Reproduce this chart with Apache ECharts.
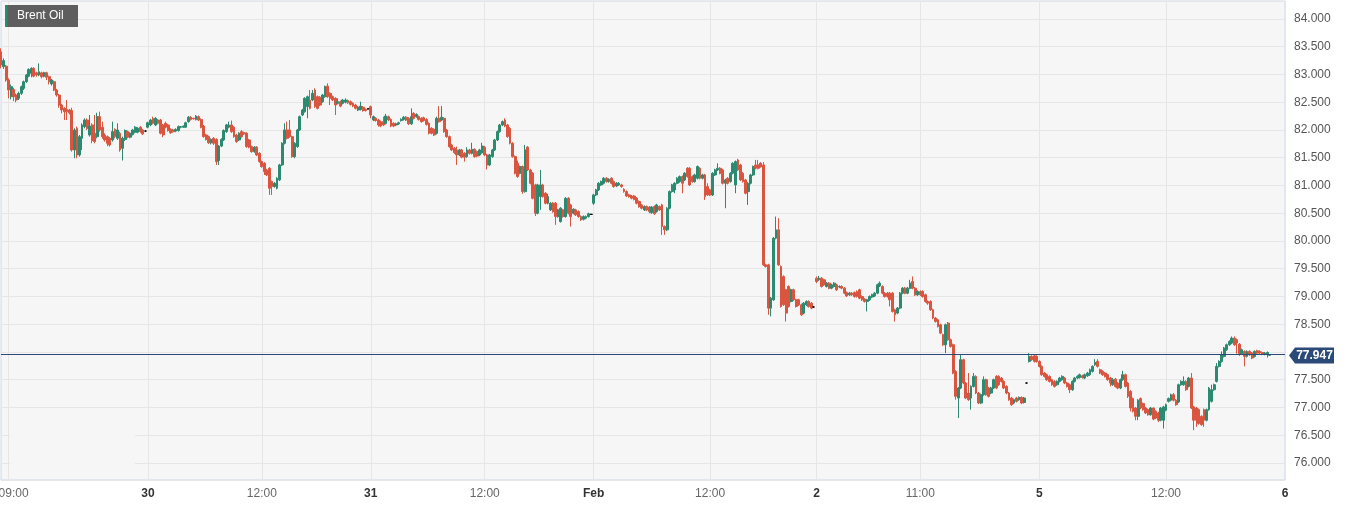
<!DOCTYPE html>
<html><head><meta charset="utf-8">
<script src="https://cdn.jsdelivr.net/npm/echarts@6/dist/echarts.min.js"></script>
<style>html,body{margin:0;padding:0;background:#fff}#c{width:1351px;height:506px}</style>
</head><body><div id="c"></div>
<script>
const chartTitle = 'Brent Oil';
const lastPrice = 77.947;
const yMin = 75.693, yMax = 84.324;
const categoryCount = 508;
const tickIdx = [3, 58, 103, 146, 191, 234, 280, 322, 363, 410, 460, 507];
const tickText = ['09:00', '30', '12:00', '31', '12:00', 'Feb', '12:00', '2', '11:00', '5', '12:00', '6'];
const tickBold = [false, true, false, true, false, true, false, true, false, true, false, true];
const hiddenYLabels = [78];

// [open, close, low, high]
const jan29 = [
[83.41,83.17,83.11,83.47],[83.14,83.25,83.10,83.29],[83.15,82.90,82.87,83.17],[82.90,82.72,82.57,82.93],[82.60,82.78,82.55,82.82],
[82.73,82.60,82.52,82.76],[82.63,82.54,82.50,82.66],[82.57,82.66,82.54,82.69],[82.66,82.78,82.63,82.80],[82.75,82.87,82.72,82.89],
[82.87,82.99,82.85,83.01],[82.97,83.09,82.95,83.11],[83.02,83.11,82.95,83.13],[83.11,82.97,82.95,83.13],[83.03,82.99,82.96,83.05],
[82.99,83.05,82.97,83.20],[83.03,82.96,82.93,83.05],[82.97,83.03,82.95,83.05],[83.03,82.95,82.90,83.05],[82.96,82.87,82.82,82.98],
[82.83,82.90,82.80,82.92],[82.87,82.72,82.70,82.89],[82.72,82.63,82.60,82.74],[82.63,82.45,82.40,82.65],[82.45,82.36,82.30,82.47],
[82.39,82.33,82.18,82.41],[82.37,82.33,82.18,82.54],[82.36,82.31,82.28,82.38],[82.35,81.64,81.61,82.40],[81.64,82.00,81.49,82.03],
[82.03,81.55,81.49,82.06],[81.55,81.88,81.52,81.91],[81.85,82.09,81.64,82.12],[82.06,82.18,82.03,82.21],[82.18,82.03,82.00,82.21],
[81.91,82.07,81.88,82.27],[82.09,81.81,81.76,82.12],[81.94,81.79,81.76,82.27],[81.88,82.24,81.85,82.31],[82.24,82.00,81.97,82.33],
[82.05,81.88,81.84,82.15],[81.91,81.82,81.79,81.94],[81.88,81.76,81.71,81.90],[81.85,81.73,81.70,81.87],[81.82,81.97,81.79,82.15],
[82.01,81.88,81.85,82.03],[81.85,82.00,81.82,82.12],[81.94,81.64,81.61,81.97],[81.67,81.85,81.45,81.88],[81.83,81.99,81.80,82.01],
[81.97,81.87,81.85,81.99],[81.87,81.94,81.85,81.96],[81.92,82.00,81.90,82.02],[81.96,82.05,81.94,82.07],[81.96,82.03,81.94,82.05],
[82.05,81.97,81.95,82.07],[82.00,81.93,81.91,82.02],[81.98,81.98,81.97,81.99]
];
const jan30 = [
[82.05,82.13,82.03,82.15],[82.09,82.18,82.07,82.20],[82.21,82.12,82.10,82.24],[82.09,82.21,82.07,82.23],[82.18,82.12,82.10,82.20],
[82.18,81.94,81.92,82.20],[82.09,81.91,81.87,82.11],[82.12,82.05,82.03,82.15],[82.09,81.99,81.97,82.11],[82.01,81.95,81.93,82.03],
[82.00,81.97,81.95,82.02],[81.98,82.01,81.96,82.03],[81.99,82.06,81.97,82.08],[82.05,82.06,82.03,82.07],[82.05,82.07,82.04,82.08],
[82.05,82.13,82.04,82.15],[82.15,82.23,82.13,82.25],[82.23,82.19,82.17,82.25],[82.21,82.20,82.19,82.22],[82.19,82.25,82.17,82.27],
[82.24,82.18,82.16,82.26],[82.19,82.05,82.03,82.21],[82.07,81.88,81.86,82.09],[81.91,81.83,81.81,81.93],[81.88,81.77,81.75,81.90],
[81.77,81.83,81.74,81.85],[81.85,81.76,81.73,81.87],[81.83,81.43,81.37,81.85],[81.45,81.71,81.37,81.73],[81.71,81.83,81.69,81.85],
[81.82,81.99,81.80,82.01],[81.97,82.09,81.95,82.11],[82.05,82.09,82.03,82.15],[82.09,81.97,81.95,82.17],[82.05,81.88,81.86,82.07],
[81.91,81.79,81.77,81.93],[81.82,81.94,81.80,81.96],[81.97,81.88,81.86,82.00],[81.95,81.93,81.91,81.97],[81.94,81.70,81.68,81.96],
[81.82,81.69,81.67,81.84],[81.70,81.61,81.59,81.72],[81.61,81.69,81.59,81.71],[81.69,81.55,81.53,81.71],[81.58,81.43,81.41,81.60],
[81.43,81.34,81.32,81.45],[81.40,81.25,81.19,81.42],[81.28,81.19,81.17,81.30],[81.31,80.95,80.83,81.33],[81.07,80.98,80.83,81.09],
[80.98,81.04,80.96,81.06],[80.95,81.13,80.93,81.15],[81.10,81.37,81.08,81.39],[81.37,81.76,81.35,81.78],[81.76,82.00,81.74,82.12],
[82.00,81.85,81.83,82.15],[82.00,81.88,81.86,82.18],[81.88,81.52,81.50,81.90],[81.52,81.76,81.49,81.78],[81.70,82.00,81.68,82.02],
[82.00,82.24,81.98,82.26],[82.27,82.36,82.25,82.38],[82.33,82.57,82.31,82.59],[82.42,82.60,82.21,82.62],[82.54,82.39,82.37,82.72],
[82.54,82.66,82.52,82.72],[82.72,82.42,82.40,82.75],[82.60,82.39,82.37,82.62],[82.59,82.45,82.43,82.61],[82.51,82.63,82.49,82.65],
[82.60,82.78,82.58,82.80],[82.79,82.60,82.58,82.84],[82.66,82.57,82.45,82.68],[82.60,82.54,82.52,82.62],[82.57,82.45,82.27,82.59],
[82.48,82.51,82.46,82.57],[82.51,82.43,82.41,82.53],[82.48,82.54,82.46,82.56],[82.50,82.54,82.48,82.57],[82.53,82.49,82.47,82.55],
[82.51,82.46,82.44,82.53],[82.48,82.43,82.41,82.50],[82.45,82.39,82.37,82.47],[82.36,82.41,82.34,82.43],[82.37,82.43,82.35,82.51],
[82.41,82.35,82.33,82.43],[82.37,82.35,82.33,82.39],[82.38,82.38,82.37,82.39]
];
const jan31 = [
[82.42,82.27,82.21,82.44],[82.18,82.24,82.16,82.26],[82.21,82.17,82.15,82.23],[82.18,82.09,82.06,82.20],[82.15,82.07,82.05,82.17],
[82.15,82.09,82.07,82.24],[82.12,82.25,82.10,82.29],[82.24,82.18,82.16,82.26],[82.19,82.07,82.05,82.21],[82.12,82.07,82.05,82.14],
[82.09,82.11,82.07,82.13],[82.11,82.13,82.09,82.15],[82.17,82.19,82.15,82.21],[82.19,82.23,82.17,82.25],[82.23,82.18,82.16,82.25],
[82.21,82.11,82.09,82.23],[82.11,82.24,82.09,82.39],[82.30,82.21,82.19,82.32],[82.24,82.28,82.22,82.30],[82.24,82.19,82.17,82.26],
[82.21,82.15,82.13,82.23],[82.22,82.17,82.15,82.24],[82.19,82.10,82.08,82.21],[82.12,81.94,81.92,82.14],[82.03,81.94,81.92,82.05],
[82.01,81.91,81.89,82.03],[81.94,82.21,81.92,82.24],[82.21,82.15,82.13,82.43],[82.18,82.23,82.16,82.43],[82.21,81.97,81.95,82.23],
[82.00,81.88,81.86,82.02],[81.88,81.70,81.68,81.90],[81.73,81.64,81.62,81.75],[81.67,81.59,81.57,81.69],[81.64,81.55,81.37,81.70],
[81.55,81.64,81.53,81.66],[81.64,81.51,81.49,81.66],[81.58,81.51,81.43,81.60],[81.52,81.64,81.50,81.69],[81.64,81.58,81.56,81.66],
[81.58,81.65,81.56,81.77],[81.65,81.52,81.50,81.67],[81.61,81.53,81.51,81.63],[81.55,81.64,81.53,81.66],[81.59,81.71,81.57,81.77],
[81.69,81.55,81.53,81.71],[81.55,81.37,81.29,81.57],[81.37,81.55,81.35,81.57],[81.52,81.64,81.50,81.66],[81.64,81.82,81.62,81.84],
[81.82,81.97,81.80,81.99],[81.97,82.09,81.95,82.11],[82.09,82.15,82.07,82.17],[82.18,82.07,82.05,82.21],[82.09,81.88,81.86,82.11],
[82.03,81.76,81.74,82.05],[81.76,81.52,81.50,81.78],[81.52,81.22,81.20,81.54],[81.40,81.16,81.14,81.45],[81.22,81.34,81.20,81.36],
[81.34,80.89,80.85,81.36],[80.89,81.64,80.87,81.73],[81.69,81.28,81.26,81.71],[81.28,81.04,81.02,81.30],[81.22,80.77,80.75,81.24],
[81.01,80.50,80.45,81.03],[80.50,81.01,80.48,81.03],[80.80,81.01,80.56,81.28],[81.01,80.80,80.78,81.03],[80.86,80.68,80.66,80.88],
[80.68,80.80,80.66,80.85],[80.56,80.68,80.54,80.70],[80.68,80.53,80.51,80.70],[80.68,80.44,80.29,80.70],[80.44,80.56,80.42,80.58],
[80.35,80.59,80.33,80.61],[80.56,80.44,80.42,80.58],[80.44,80.77,80.42,80.79],[80.77,80.50,80.48,80.79],[80.65,80.44,80.26,80.67],
[80.50,80.57,80.48,80.59],[80.56,80.47,80.45,80.58],[80.53,80.44,80.42,80.55],[80.44,80.38,80.36,80.46],[80.39,80.44,80.37,80.46],
[80.41,80.44,80.39,80.46],[80.44,80.49,80.42,80.51],[80.48,80.48,80.47,80.49]
];
const feb1 = [
[80.68,80.83,80.65,80.85],[80.83,80.92,80.81,80.94],[80.92,81.04,80.90,81.06],[81.01,81.07,80.99,81.09],[81.04,81.13,81.02,81.15],
[81.13,81.07,81.05,81.15],[81.07,81.11,81.05,81.13],[81.13,81.04,81.02,81.15],[81.07,80.98,80.96,81.09],[80.99,81.04,80.97,81.06],
[81.01,81.04,80.99,81.06],[81.01,80.98,80.96,81.03],[80.93,80.89,80.87,80.95],[80.89,80.81,80.79,80.91],[80.83,80.80,80.78,80.85],
[80.81,80.77,80.75,80.83],[80.81,80.75,80.73,80.83],[80.77,80.68,80.66,80.79],[80.71,80.62,80.60,80.73],[80.65,80.59,80.57,80.67],
[80.56,80.62,80.54,80.64],[80.62,80.56,80.54,80.64],[80.61,80.53,80.50,80.63],[80.51,80.61,80.49,80.63],[80.62,80.49,80.47,80.64],
[80.53,80.65,80.51,80.67],[80.62,80.56,80.54,80.64],[80.65,80.26,80.11,80.67],[80.26,80.20,80.11,80.28],[80.20,80.59,80.18,80.61],
[80.59,80.89,80.57,80.91],[80.89,81.01,80.87,81.03],[80.92,81.04,80.86,81.06],[81.04,81.13,81.02,81.15],[81.07,81.16,81.05,81.18],
[81.16,81.04,80.86,81.18],[81.10,81.22,81.08,81.24],[81.31,81.16,81.14,81.33],[81.31,81.01,80.99,81.33],[81.16,81.07,81.05,81.18],
[81.07,81.19,81.05,81.21],[81.13,81.34,81.11,81.36],[81.31,81.13,81.11,81.33],[81.13,81.19,81.11,81.21],[81.19,80.80,80.74,81.21],
[80.98,80.83,80.81,81.04],[80.92,80.83,80.81,80.94],[80.83,81.22,80.81,81.24],[81.19,81.28,81.17,81.30],[81.28,81.31,81.26,81.40],
[81.31,81.22,81.20,81.33],[81.28,81.04,81.02,81.30],[81.04,81.10,80.59,81.12],[81.13,81.04,81.02,81.15],[81.07,81.22,81.05,81.24],
[81.22,81.40,81.20,81.42],[81.01,81.43,80.86,81.45],[81.46,81.28,81.26,81.48],[81.37,81.10,81.08,81.39],[81.22,81.07,81.05,81.24],
[81.10,80.86,80.84,81.12],[80.89,81.04,80.65,81.06],[81.04,81.19,81.02,81.21],[81.19,81.34,81.17,81.36],[81.37,81.31,81.29,81.46],
[81.37,81.31,81.29,81.46],[81.40,81.34,81.32,81.42],[81.37,79.57,79.55,81.42],[79.57,79.54,79.52,79.59],[79.57,78.79,78.67,79.59],
[78.79,78.97,78.64,78.99],[78.94,80.05,78.92,80.07],[80.05,80.20,80.03,80.44],[80.20,79.57,79.55,80.41],[79.54,78.82,78.80,79.56],
[79.36,78.85,78.83,79.38],[79.12,78.70,78.55,79.14],[79.18,78.82,78.80,79.20],[78.91,79.12,78.89,79.14],[79.12,78.94,78.92,79.14],
[78.94,78.82,78.80,78.96],[78.94,78.85,78.83,78.96],[78.85,78.67,78.65,78.87],[78.70,78.88,78.68,78.90],[78.85,78.91,78.83,78.93],
[78.91,78.82,78.80,78.93],[78.88,78.79,78.77,78.90],[78.81,78.81,78.80,78.82]
];
const feb2 = [
[79.33,79.27,79.24,79.36],[79.30,79.33,79.28,79.37],[79.33,79.18,79.16,79.35],[79.30,79.21,79.19,79.32],[79.18,79.24,79.16,79.26],
[79.24,79.15,79.13,79.26],[79.15,79.21,79.13,79.23],[79.18,79.24,79.16,79.26],[79.21,79.12,79.10,79.23],[79.17,79.18,79.15,79.20],
[79.18,79.15,79.13,79.20],[79.15,79.06,79.04,79.17],[79.07,79.01,78.99,79.09],[79.03,79.06,79.01,79.08],[79.06,79.03,79.01,79.08],
[79.07,79.00,78.98,79.09],[79.09,79.00,78.98,79.11],[79.12,78.97,78.95,79.14],[79.00,78.94,78.92,79.02],[78.95,78.91,78.89,78.97],
[78.91,78.94,78.73,78.96],[78.94,79.00,78.92,79.02],[78.99,79.03,78.97,79.05],[79.01,79.06,78.99,79.08],[79.06,79.21,79.04,79.23],
[79.19,79.24,79.17,79.27],[79.18,79.06,79.04,79.20],[79.06,79.00,78.98,79.08],[79.06,79.00,78.98,79.08],[79.06,78.94,78.82,79.08],
[79.06,78.73,78.71,79.08],[78.76,78.67,78.55,78.78],[78.70,78.79,78.68,78.81],[78.79,79.06,78.77,79.08],[79.06,79.15,79.04,79.17],
[79.15,79.06,79.04,79.17],[79.06,79.15,79.04,79.17],[79.15,79.24,79.13,79.30],[79.27,79.15,79.13,79.36],[79.15,79.03,79.01,79.17],
[79.03,79.09,79.01,79.11],[79.09,79.03,79.01,79.11],[79.09,79.00,78.98,79.11],[79.03,78.91,78.89,79.05],[78.91,78.88,78.85,78.93],
[78.91,78.76,78.74,78.93],[78.76,78.61,78.59,78.78],[78.61,78.55,78.53,78.63],[78.58,78.46,78.44,78.60],[78.49,78.34,78.32,78.51],
[78.31,78.13,78.11,78.33],[78.13,78.49,77.98,78.51],[78.52,78.22,78.20,78.54],[78.22,78.10,78.08,78.24],[78.13,77.62,77.60,78.15],
[77.65,77.20,77.14,77.67],[77.17,77.35,76.81,77.37],[77.35,77.86,77.33,77.95],[77.86,77.44,77.42,77.88],[77.44,77.17,77.15,77.46],
[77.26,77.14,77.12,77.62],[77.17,77.38,76.96,77.40],[77.38,77.56,77.36,77.62],[77.56,77.26,77.24,77.58],[77.26,77.08,77.06,77.28],
[77.08,77.23,77.06,77.25],[77.23,77.50,77.21,77.56],[77.50,77.23,77.21,77.52],[77.35,77.20,77.18,77.37],[77.26,77.35,77.24,77.37],
[77.35,77.50,77.33,77.52],[77.56,77.35,77.33,77.58],[77.56,77.41,77.39,77.58],[77.53,77.47,77.45,77.55],[77.47,77.35,77.33,77.49],
[77.38,77.26,77.24,77.40],[77.26,77.14,77.12,77.28],[77.17,77.05,77.03,77.19],[77.08,77.14,77.06,77.16],[77.17,77.11,77.09,77.19],
[77.14,77.18,77.12,77.20],[77.18,77.08,77.06,77.20],[77.09,77.17,77.07,77.19],[77.44,77.44,77.43,77.45]
];
const feb5 = [
[77.83,77.92,77.81,77.98],[77.92,77.86,77.84,77.94],[77.93,77.83,77.81,77.95],[77.92,77.83,77.81,77.94],[77.83,77.74,77.72,77.85],
[77.74,77.59,77.57,77.76],[77.62,77.56,77.54,77.64],[77.59,77.50,77.48,77.61],[77.56,77.47,77.45,77.58],[77.50,77.41,77.39,77.52],
[77.47,77.38,77.36,77.49],[77.41,77.47,77.39,77.49],[77.47,77.53,77.45,77.55],[77.50,77.56,77.48,77.58],[77.53,77.44,77.42,77.55],
[77.44,77.38,77.36,77.46],[77.41,77.32,77.26,77.43],[77.32,77.47,77.30,77.49],[77.47,77.53,77.45,77.55],[77.53,77.56,77.51,77.58],
[77.54,77.59,77.52,77.61],[77.57,77.54,77.52,77.59],[77.53,77.59,77.51,77.61],[77.57,77.62,77.55,77.64],[77.59,77.68,77.57,77.70],
[77.65,77.74,77.63,77.76],[77.77,77.81,77.75,77.87],[77.83,77.74,77.72,77.87],[77.68,77.62,77.60,77.70],[77.65,77.59,77.57,77.67],
[77.62,77.56,77.54,77.64],[77.59,77.50,77.48,77.61],[77.53,77.44,77.38,77.55],[77.41,77.50,77.39,77.53],[77.51,77.38,77.36,77.53],
[77.44,77.35,77.33,77.46],[77.35,77.50,77.33,77.52],[77.50,77.59,77.48,77.66],[77.59,77.38,77.36,77.61],[77.44,77.20,77.17,77.46],
[77.29,76.99,76.93,77.31],[77.16,76.93,76.91,77.18],[76.99,76.84,76.77,77.01],[76.84,77.13,76.77,77.15],[77.16,76.99,76.97,77.18],
[77.07,76.96,76.94,77.09],[76.99,76.90,76.88,77.01],[76.96,76.87,76.85,76.98],[76.87,76.99,76.85,77.01],[76.99,76.79,76.77,77.00],
[76.93,76.81,76.79,76.95],[76.90,76.77,76.74,76.92],[76.77,76.99,76.75,77.01],[76.77,77.01,76.62,77.03],[76.95,77.05,76.93,77.07],
[77.11,77.16,77.09,77.18],[77.13,77.23,77.11,77.25],[77.23,77.13,77.11,77.26],[77.13,77.05,77.03,77.15],[77.10,77.41,77.08,77.43],
[77.41,77.47,77.39,77.49],[77.41,77.47,77.39,77.56],[77.47,77.32,77.30,77.49],[77.38,77.53,77.36,77.55],[77.53,76.99,76.97,77.62],
[77.01,76.77,76.59,77.03],[76.99,76.77,76.65,77.01],[76.96,76.71,76.69,76.98],[76.84,76.69,76.67,76.86],[76.96,76.77,76.65,76.98],
[76.77,76.96,76.75,76.98],[76.96,77.35,76.94,77.37],[77.11,77.32,77.09,77.41],[77.32,77.41,77.30,77.43],[77.47,77.74,77.45,77.80],
[77.74,77.83,77.72,77.85],[77.83,77.95,77.81,78.01],[77.92,78.07,77.90,78.09],[78.04,78.13,78.02,78.15],[78.13,78.19,78.11,78.21],
[78.16,78.25,78.14,78.28],[78.25,78.13,78.11,78.28],[78.22,78.16,77.97,78.24],[78.14,77.97,77.93,78.16],[77.97,78.04,77.95,78.06],
[78.01,77.92,77.74,78.03],[77.92,78.01,77.90,78.03],[78.01,77.95,77.93,78.03],[77.98,77.89,77.87,78.00],[77.92,78.01,77.90,78.03],
[78.02,77.98,77.96,78.04],[78.01,77.98,77.96,78.03],[77.99,77.96,77.94,78.01],[77.96,77.98,77.94,78.00],[77.96,77.99,77.90,78.01],
[77.94,77.947,77.93,77.96]
];

const UP = '#2b8a70', DOWN = '#d9553f', NAVY = '#2c4a78';
const FONT = '"Liberation Sans", Arial, sans-serif';
const ohlc = [].concat(jan29, jan30, jan31, feb1, feb2, feb5);
const categories = [];
for (let i = 0; i < categoryCount; i++) categories.push(String(i));
const showTick = (i) => tickIdx.indexOf(i) >= 0;

const chart = echarts.init(document.getElementById('c'), null, {renderer: 'canvas'});
chart.setOption({
  animation: false,
  textStyle: {fontFamily: FONT},
  grid: {left: 1, right: 66, top: 1, bottom: 26, outerBoundsMode: 'none', containLabel: false,
    show: true, backgroundColor: '#f6f6f6', borderColor: '#ccd6eb', borderWidth: 1},
  xAxis: {
    type: 'category', data: categories, boundaryGap: false,
    axisLine: {show: false}, axisTick: {show: false},
    axisLabel: {
      interval: (i) => showTick(i), margin: 8, color: '#666', fontSize: 12, fontFamily: FONT, hideOverlap: false,
      formatter: (v) => {
        const k = tickIdx.indexOf(Number(v));
        if (k < 0) return '';
        if (k === 0) return '{first|' + tickText[k] + '}';
        return tickBold[k] ? '{b|' + tickText[k] + '}' : tickText[k];
      },
      rich: {
        b: {fontWeight: 'bold', color: '#333', fontSize: 12, fontFamily: FONT},
        first: {color: '#666', fontSize: 12, fontFamily: FONT, padding: [0, 0, 0, 10]}
      }
    },
    splitLine: {show: true, interval: (i) => showTick(i), lineStyle: {color: '#e6e6e6', width: 1}}
  },
  yAxis: {
    type: 'value', position: 'right', min: yMin, max: yMax, splitNumber: 17, scale: true,
    axisLine: {show: false}, axisTick: {show: false},
    axisLabel: {color: '#555', fontSize: 12, fontFamily: FONT, margin: 9, showMinLabel: false, showMaxLabel: false,
      formatter: (v) => hiddenYLabels.some((h) => Math.abs(h - v) < 1e-6) ? '' : v.toFixed(3)},
    splitLine: {lineStyle: {color: '#e6e6e6', width: 1}}
  },
  series: [{
    type: 'candlestick', data: ohlc, barWidth: 2.4,
    itemStyle: {color: UP, color0: DOWN, borderColor: UP, borderColor0: DOWN, borderWidth: 1, borderColorDoji: '#000'},
    markLine: {silent: true, symbol: 'none', data: [{yAxis: lastPrice}], label: {show: false},
      lineStyle: {color: NAVY, width: 1, type: 'solid'}}
  }]
});

const py = Math.round(chart.convertToPixel({yAxisIndex: 0}, lastPrice)) + 0.5;
chart.setOption({
  graphic: [
    {type: 'rect', shape: {x: 10, y: 420, width: 125, height: 59}, style: {fill: '#f6f6f6'}, z: 1, silent: true},
    {type: 'group', left: 5, top: 5, z: 100, children: [
      {type: 'rect', shape: {x: 0, y: 0, width: 73, height: 22}, style: {fill: '#5e5e5e'}},
      {type: 'rect', shape: {x: 0, y: 0, width: 2.5, height: 22}, style: {fill: UP}},
      {type: 'text', x: 12, y: 11, style: {text: chartTitle, fill: '#fff', font: '12px ' + FONT, verticalAlign: 'middle'}}
    ]},
    {type: 'polygon', z: 100, shape: {points: [[1289, py], [1295, py - 8], [1334, py - 8], [1334, py + 8], [1295, py + 8]]}, style: {fill: NAVY}},
    {type: 'text', z: 101, x: 1314.5, y: py, style: {text: lastPrice.toFixed(3), fill: '#fff', font: 'bold 12px ' + FONT, align: 'center', verticalAlign: 'middle'}}
  ]
});
</script></body></html>
